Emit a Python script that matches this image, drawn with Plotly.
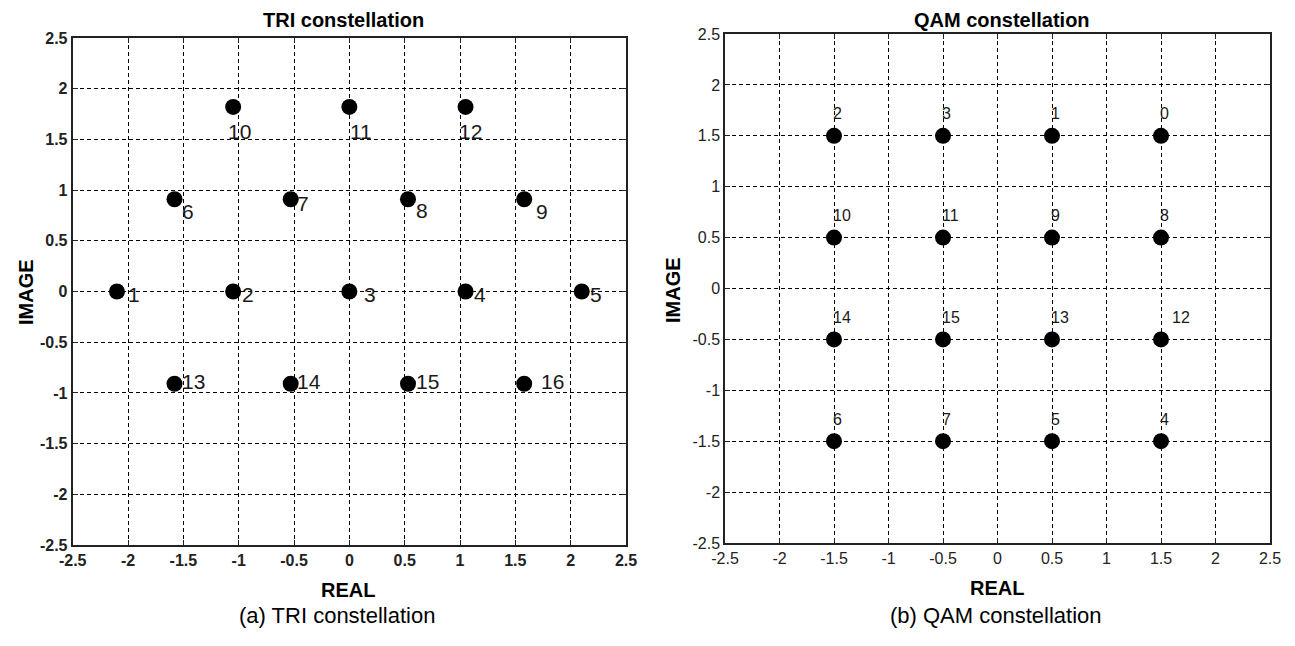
import plotly.graph_objects as go

# ---------------- data ----------------
tri_labels = ["10", "11", "12", "6", "7", "8", "9", "1", "2", "3", "4", "5", "13", "14", "15", "16"]
tri_real = [-1.05, 0.0, 1.05, -1.58, -0.53, 0.53, 1.58, -2.1, -1.05, 0.0, 1.05, 2.1, -1.58, -0.53, 0.53, 1.58]
tri_imag = [1.82, 1.82, 1.82, 0.91, 0.91, 0.91, 0.91, 0.0, 0.0, 0.0, 0.0, 0.0, -0.91, -0.91, -0.91, -0.91]

qam_labels = ["2", "3", "1", "0", "10", "11", "9", "8", "14", "15", "13", "12", "6", "7", "5", "4"]
qam_real = [-1.5, -0.5, 0.5, 1.5, -1.5, -0.5, 0.5, 1.5, -1.5, -0.5, 0.5, 1.5, -1.5, -0.5, 0.5, 1.5]
qam_imag = [1.5, 1.5, 1.5, 1.5, 0.5, 0.5, 0.5, 0.5, -0.5, -0.5, -0.5, -0.5, -1.5, -1.5, -1.5, -1.5]

tick_vals = [-2.5, -2, -1.5, -1, -0.5, 0, 0.5, 1, 1.5, 2, 2.5]
tick_text = ["-2.5", "-2", "-1.5", "-1", "-0.5", "0", "0.5", "1", "1.5", "2", "2.5"]

# label pixel offsets (style)
tri_dx = [-7, -1, -9, 5, 4, 6, 10, 9, 7, 13, 6, 6, 5, 4, 6, 15]
tri_dy = [-25, -25, -25, -12, -4, -11, -12, -3, -3, -3, -3, -3, 2, 2, 2, 2]
qam_dx = [-3, -3, -3, -3, -3, -3, -3, -3, -3, -3, -3, 9, -3, -3, -3, -3]
qam_dy = [22, 22, 22, 22, 22, 22, 22, 22, 22, 22, 22, 22, 22, 22, 22, 22]

# page body has an 8px margin; the figure is sized to fit the window
OFF = 8
W, H = 1295 - OFF, 646 - OFF
FONT = "Liberation Sans, Arial, sans-serif"

fig = go.Figure()
fig.add_trace(go.Scatter(x=tri_real, y=tri_imag, mode="markers", xaxis="x", yaxis="y",
                         marker=dict(color="black", size=16), showlegend=False, hoverinfo="skip"))
fig.add_trace(go.Scatter(x=qam_real, y=qam_imag, mode="markers", xaxis="x2", yaxis="y2",
                         marker=dict(color="black", size=16), showlegend=False, hoverinfo="skip"))

annotations = []
for lab, x, y, dx, dy in zip(tri_labels, tri_real, tri_imag, tri_dx, tri_dy):
    annotations.append(dict(x=x, y=y, xref="x", yref="y", text=lab, showarrow=False,
                            xanchor="left", yanchor="middle", xshift=dx, yshift=dy,
                            font=dict(family=FONT, size=21, color="#1a1a1a")))
for lab, x, y, dx, dy in zip(qam_labels, qam_real, qam_imag, qam_dx, qam_dy):
    annotations.append(dict(x=x, y=y, xref="x2", yref="y2", text=lab, showarrow=False,
                            xanchor="left", yanchor="middle", xshift=dx, yshift=dy,
                            font=dict(family=FONT, size=16, color="#1a1a1a")))


def px(xp):
    return (xp - OFF) / W


def py(yp):
    return 1 - (yp - OFF) / H


# titles pinned to the top edge of the figure
for t, xp in [("<b>TRI constellation</b>", 343), ("<b>QAM constellation</b>", 1002)]:
    annotations.append(dict(x=px(xp), y=1.0, xref="paper", yref="paper", text=t, showarrow=False,
                            xanchor="center", yanchor="top", borderpad=0,
                            font=dict(family=FONT, size=20, color="black")))

texts = [
    ("<b>REAL</b>", 348, 590, 20, 0),
    ("<b>REAL</b>", 997, 588, 20, 0),
    ("<b>IMAGE</b>", 26, 292, 20, -90),
    ("<b>IMAGE</b>", 673, 290, 20, -90),
    ("(a) TRI constellation", 337, 615, 22, 0),
    ("(b) QAM constellation", 996, 615, 22, 0),
]
for t, xp, yp, sz, ang in texts:
    annotations.append(dict(x=px(xp), y=py(yp), xref="paper", yref="paper", text=t, showarrow=False,
                            xanchor="center", yanchor="middle", textangle=ang,
                            font=dict(family=FONT, size=sz, color="black")))


def axis_style(domain, anchor, lw, bold):
    return dict(domain=domain, anchor=anchor, range=[-2.5, 2.5], tickmode="array",
                tickvals=tick_vals, ticktext=[("<b>%s</b>" % t) if bold else t for t in tick_text],
                showgrid=True, gridcolor="black", gridwidth=1.2, griddash="4px,3px",
                zeroline=False, showline=True, linecolor="#222", linewidth=lw, mirror="ticks",
                ticks="inside", ticklen=5, tickcolor="#222", tickwidth=1.2, automargin=False,
                tickfont=dict(family=FONT, size=16, color="#222"), fixedrange=True)


layout = dict(
    width=W, height=H, autosize=False,
    margin=dict(l=0, r=0, t=0, b=0, pad=0),
    paper_bgcolor="white", plot_bgcolor="white",
    xaxis=axis_style([px(72.7), px(626)], "y", 2, True),
    yaxis=axis_style([py(545), py(38)], "x", 2, True),
    xaxis2=axis_style([px(725), px(1270)], "y2", 1.5, False),
    yaxis2=axis_style([py(543), py(34)], "x2", 1.5, False),
    annotations=annotations,
)
fig.update_layout(**layout)
fig.write_html("out.html")
